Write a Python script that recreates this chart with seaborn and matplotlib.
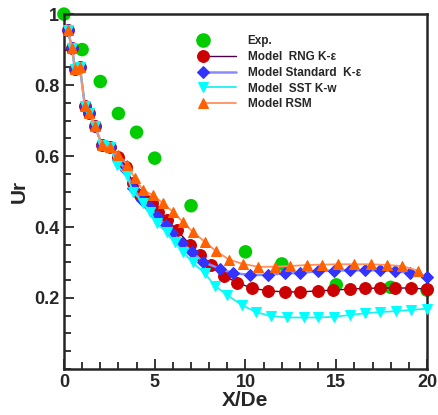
import numpy as np
import pandas as pd
import matplotlib
matplotlib.use("Agg")
import matplotlib.pyplot as plt
import seaborn as sns
from matplotlib.legend_handler import HandlerLine2D
from matplotlib.lines import Line2D
from matplotlib.ticker import MultipleLocator

# experimental points
exp_x = [0, 1, 2, 3, 4, 5, 7, 10, 12, 15, 18, 20]
exp_u = [1.0, 0.90, 0.81, 0.72, 0.667, 0.594, 0.46, 0.33, 0.296, 0.237, 0.23, 0.222]

# near-inlet points shared by the models
x_start = [0.2, 0.45, 0.6, 0.88, 1.15, 1.4, 1.7, 2.1, 2.55]
u_start = [0.955, 0.905, 0.845, 0.852, 0.742, 0.72, 0.685, 0.63, 0.625]

rng_x = x_start + [3.0, 3.4, 3.8, 4.2, 4.46, 4.85, 5.2, 5.7, 6.2, 6.95, 7.5, 8.1, 8.8, 9.55,
                   10.35, 11.25, 12.2, 13.0, 14.0, 14.8, 15.75, 16.6, 17.4, 18.25, 19.1, 20]
rng_u = u_start + [0.598, 0.57, 0.523, 0.49, 0.476, 0.468, 0.443, 0.42, 0.392, 0.35, 0.32, 0.293,
                   0.263, 0.243, 0.228, 0.22, 0.217, 0.217, 0.22, 0.222, 0.225, 0.227, 0.228,
                   0.228, 0.228, 0.225]

std_x = x_start + [3.0, 3.4, 3.8, 4.3, 4.75, 5.1, 5.6, 5.95, 6.5, 7.05, 7.66, 8.6, 9.3, 10.25,
                   11.25, 12.2, 13.0, 14.0, 14.9, 15.75, 16.6, 17.4, 18.25, 19.05, 20]
std_u = u_start + [0.59, 0.56, 0.51, 0.475, 0.455, 0.43, 0.405, 0.383, 0.355, 0.33, 0.302, 0.282,
                   0.27, 0.265, 0.265, 0.27, 0.27, 0.276, 0.277, 0.278, 0.278, 0.278, 0.276,
                   0.27, 0.26]

sst_x = x_start + [2.9, 3.45, 3.8, 4.35, 4.75, 5.1, 5.65, 6.1, 6.55, 7.1, 7.75, 8.3, 9.0, 9.8,
                   10.6, 11.4, 12.3, 13.2, 14.0, 14.9, 15.75, 16.6, 17.4, 18.3, 19.1, 20]
sst_u = u_start + [0.575, 0.546, 0.5, 0.468, 0.443, 0.41, 0.386, 0.358, 0.33, 0.30, 0.27, 0.235,
                   0.208, 0.18, 0.16, 0.149, 0.145, 0.145, 0.145, 0.147, 0.152, 0.157, 0.16,
                   0.163, 0.166, 0.17]

rsm_x = x_start + [3.0, 3.5, 3.9, 4.35, 4.9, 5.45, 6.0, 6.55, 7.1, 7.77, 8.35, 9.1, 9.86, 10.7,
                   11.6, 12.45, 13.4, 14.2, 15.1, 16.0, 16.9, 17.8, 18.6, 19.5]
rsm_u = u_start + [0.603, 0.575, 0.538, 0.504, 0.49, 0.467, 0.443, 0.414, 0.386, 0.358, 0.333,
                   0.308, 0.296, 0.288, 0.288, 0.29, 0.293, 0.294, 0.295, 0.295, 0.295, 0.293,
                   0.29, 0.277]


class LeftMarkerHandler(HandlerLine2D):
    # legend marker at the left end of the line, not in the middle
    def create_artists(self, *args, **kwargs):
        artists = super().create_artists(*args, **kwargs)
        for a in artists:
            a.set_markevery([0])
        return artists


sns.set_style("ticks")
plt.rcParams['font.family'] = ['Liberation Sans', 'DejaVu Sans']
plt.rcParams['font.weight'] = 'bold'

fig = plt.figure(figsize=(4.38, 4.15), dpi=100)
ax = fig.add_axes([0.146, 0.111, 0.829, 0.855])

models = [
    ("Model  RNG K-\u03b5", rng_x, rng_u, dict(color="#4a0048", lw=1.0, marker="o", ms=8.5,
                                              mfc="#cc0000", mec="#cc0000")),
    ("Model Standard  K-\u03b5", std_x, std_u, dict(color="#8a8aff", lw=1.8, marker="D", ms=6.5,
                                                 mfc="#3333ff", mec="#3333ff")),
    ("Model  SST K-w", sst_x, sst_u, dict(color="#22f0f0", lw=1.3, marker="v", ms=7.5,
                                          mfc="#00ffff", mec="#00ffff")),
    ("Model RSM", rsm_x, rsm_u, dict(color="#ff9060", lw=1.3, marker="^", ms=7.5,
                                     mfc="#ff6000", mec="#ff6000")),
]

sns.scatterplot(x=exp_x, y=exp_u, ax=ax, color="#00cc00", s=95, edgecolor="none",
                clip_on=False, zorder=2)
for name, xs, us, style in models:
    sns.lineplot(x=xs, y=us, ax=ax, sort=False, label=name, clip_on=False, zorder=3, **style)

ax.set_xlim(0, 20)
ax.set_ylim(0, 1)
ax.set_xticks([0, 5, 10, 15, 20])
ax.set_yticks([0.2, 0.4, 0.6, 0.8, 1.0])
ax.set_yticklabels(["0.2", "0.4", "0.6", "0.8", "1"])
ax.xaxis.set_minor_locator(MultipleLocator(1))
ax.yaxis.set_minor_locator(MultipleLocator(0.05))
ax.tick_params(which='both', direction='in', width=1.3, labelsize=13, top=False, right=False)
ax.tick_params(which='major', length=7)
ax.tick_params(which='minor', length=5)
for lab in ax.get_xticklabels() + ax.get_yticklabels():
    lab.set_fontweight('bold')
for sp in ax.spines.values():
    sp.set_linewidth(1.8)

ax.set_xlabel("X/De", fontsize=15, fontweight='bold', labelpad=0)
ax.set_ylabel("Ur", fontsize=15, fontweight='bold', labelpad=4)

handles, labels = ax.get_legend_handles_labels()
exp_handle = Line2D([], [], ls='none', marker='o', ms=9.5, mfc="#00cc00", mec="#00cc00")
handles = [exp_handle] + handles
labels = ["Exp."] + labels
hmap = {h: LeftMarkerHandler(numpoints=1) for h in handles}
leg = ax.legend(handles, labels, loc='upper left', bbox_to_anchor=(0.366, 0.957),
                frameon=False, fontsize=8.5, handlelength=2.8, handletextpad=1.0,
                labelspacing=0.32, borderpad=0, handler_map=hmap)
for t in leg.get_texts():
    t.set_fontweight('bold')

fig.savefig("out.png", dpi=100)
